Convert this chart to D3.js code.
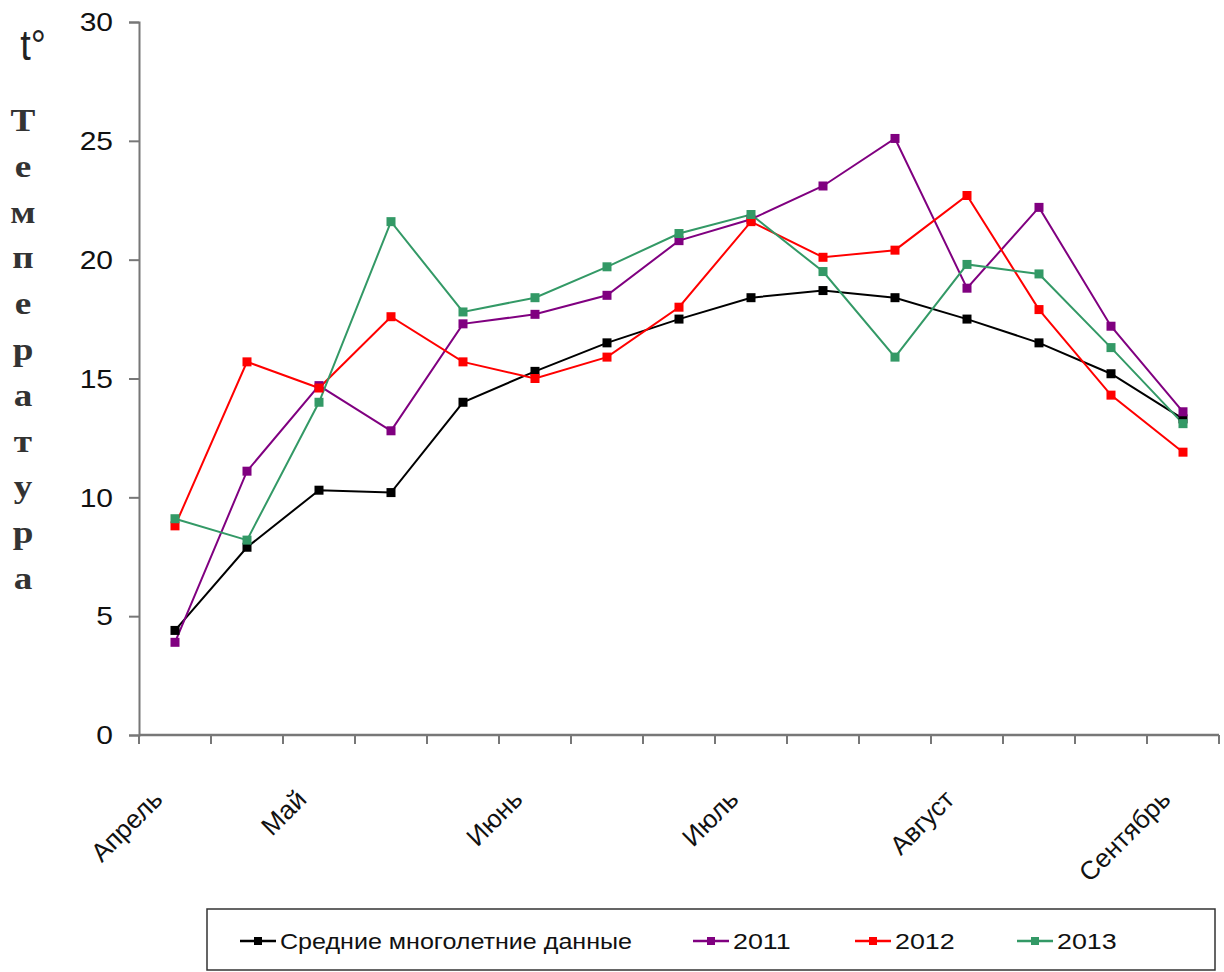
<!DOCTYPE html>
<html><head><meta charset="utf-8">
<script src="https://cdn.jsdelivr.net/npm/d3@7"></script>
<style>body{margin:0;background:#fff}svg{display:block}</style>
</head><body>
<svg id="chart" width="1224" height="972"></svg>
<script>
const categories = ["IV-3","V-1","V-2","V-3","VI-1","VI-2","VI-3","VII-1","VII-2","VII-3","VIII-1","VIII-2","VIII-3","IX-1","IX-2"];
const tickLabels = ["Апрель","","Май","","","Июнь","","","Июль","","","Август","","","Сентябрь"];
const yTicks = [0,5,10,15,20,25,30];
const seriesNames = ["Средние многолетние данные","2011","2012","2013"];
const meanValues = [4.4, 7.9, 10.3, 10.2, 14.0, 15.3, 16.5, 17.5, 18.4, 18.7, 18.4, 17.5, 16.5, 15.2, 13.3];
const values2011 = [3.9, 11.1, 14.7, 12.8, 17.3, 17.7, 18.5, 20.8, 21.7, 23.1, 25.1, 18.8, 22.2, 17.2, 13.6];
const values2012 = [8.8, 15.7, 14.6, 17.6, 15.7, 15.0, 15.9, 18.0, 21.6, 20.1, 20.4, 22.7, 17.9, 14.3, 11.9];
const values2013 = [9.1, 8.2, 14.0, 21.6, 17.8, 18.4, 19.7, 21.1, 21.9, 19.5, 15.9, 19.8, 19.4, 16.3, 13.1];
const yTitleTop = "t°";
const yTitleWord = "Температура";

const colors = ["#000000","#800080","#ff0000","#339966"];
const series = [meanValues, values2011, values2012, values2013];

const svg = d3.select("#chart");
const x = d3.scaleBand().domain(categories).range([139,1219]).padding(0);
const y = d3.scaleLinear().domain([0,30]).range([735,22]);
const SX = 1.2;
const axisColor = "#777";

// Y axis
const yAxis = svg.append("g").attr("transform","translate(139,0)")
  .call(d3.axisLeft(y).tickValues(yTicks).tickSize(10).tickPadding(16).tickFormat(d3.format("d")));
yAxis.select(".domain").attr("stroke",axisColor).attr("stroke-width",2);
yAxis.selectAll(".tick line").attr("stroke",axisColor).attr("stroke-width",2);
yAxis.selectAll(".tick text").attr("font-family","Liberation Sans, Arial, sans-serif")
  .attr("font-size",25).attr("fill","#111").attr("dy","0.35em")
  .attr("x",null).attr("text-anchor","end")
  .attr("transform",`translate(-26,0) scale(${SX},1)`);

// X axis with ticks at band edges
const xg = svg.append("g").attr("transform","translate(0,735)");
xg.append("line").attr("x1",139).attr("x2",1219).attr("y1",0).attr("y2",0)
  .attr("stroke",axisColor).attr("stroke-width",2.5);
const edges = categories.map(c => x(c)).concat([x.range()[1]]);
xg.selectAll("line.tk").data(edges).join("line").attr("class","tk")
  .attr("x1",d=>d).attr("x2",d=>d).attr("y1",0).attr("y2",9)
  .attr("stroke",axisColor).attr("stroke-width",2);
xg.selectAll("text.lbl").data(categories.filter((c,i)=>tickLabels[i]!==""))
  .join("text").attr("class","lbl")
  .attr("transform",c=>`translate(${x(c)+x.bandwidth()/2-11},66) rotate(-45)`)
  .attr("text-anchor","end")
  .attr("font-family","Liberation Sans, Arial, sans-serif")
  .attr("font-size",26).attr("fill","#111")
  .text(c=>tickLabels[categories.indexOf(c)]);

// Lines + markers
const line = d3.line().x((d,i)=>x(categories[i])+x.bandwidth()/2).y(d=>y(d));
series.forEach((vals,k)=>{
  svg.append("path").datum(vals).attr("d",line).attr("fill","none")
    .attr("stroke",colors[k]).attr("stroke-width",2);
});
series.forEach((vals,k)=>{
  svg.append("g").selectAll("rect").data(vals).join("rect")
    .attr("x",(d,i)=>x(categories[i])+x.bandwidth()/2-4.5)
    .attr("y",d=>y(d)-4.5).attr("width",9).attr("height",9)
    .attr("fill",colors[k]);
});

// Y title
svg.append("text").attr("transform","translate(33,60) scale(0.9,1)").attr("text-anchor","middle")
  .attr("font-family","Liberation Sans, Arial, sans-serif").attr("font-size",42)
  .attr("fill","#222").text(yTitleTop);
const letters = Array.from(yTitleWord);
svg.append("g").selectAll("text").data(letters).join("text")
  .attr("transform",(d,i)=>`translate(23,${131+i*45.8}) scale(${SX},1)`)
  .attr("text-anchor","middle")
  .attr("font-family","Liberation Serif, Times New Roman, serif")
  .attr("font-weight","bold").attr("font-size",31).attr("fill","#333")
  .text(d=>d);

// Legend
const lg = svg.append("g");
lg.append("rect").attr("x",207).attr("y",909).attr("width",1008).attr("height",61)
  .attr("fill","#fff").attr("stroke","#333").attr("stroke-width",1.5);
const legendX = [240, 693, 855, 1017];
seriesNames.forEach((n,k)=>{
  const lx = legendX[k], ly = 941;
  lg.append("line").attr("x1",lx).attr("x2",lx+36).attr("y1",ly).attr("y2",ly)
    .attr("stroke",colors[k]).attr("stroke-width",2.5);
  lg.append("rect").attr("x",lx+18-4).attr("y",ly-4).attr("width",8).attr("height",8).attr("fill",colors[k]);
  lg.append("text").attr("transform",`translate(${lx+40},${ly+8}) scale(${k===0?1.14:1.22},1)`)
    .attr("font-family","Liberation Sans, Arial, sans-serif").attr("font-size",22)
    .attr("fill","#111").text(n);
});
</script>
</body></html>
